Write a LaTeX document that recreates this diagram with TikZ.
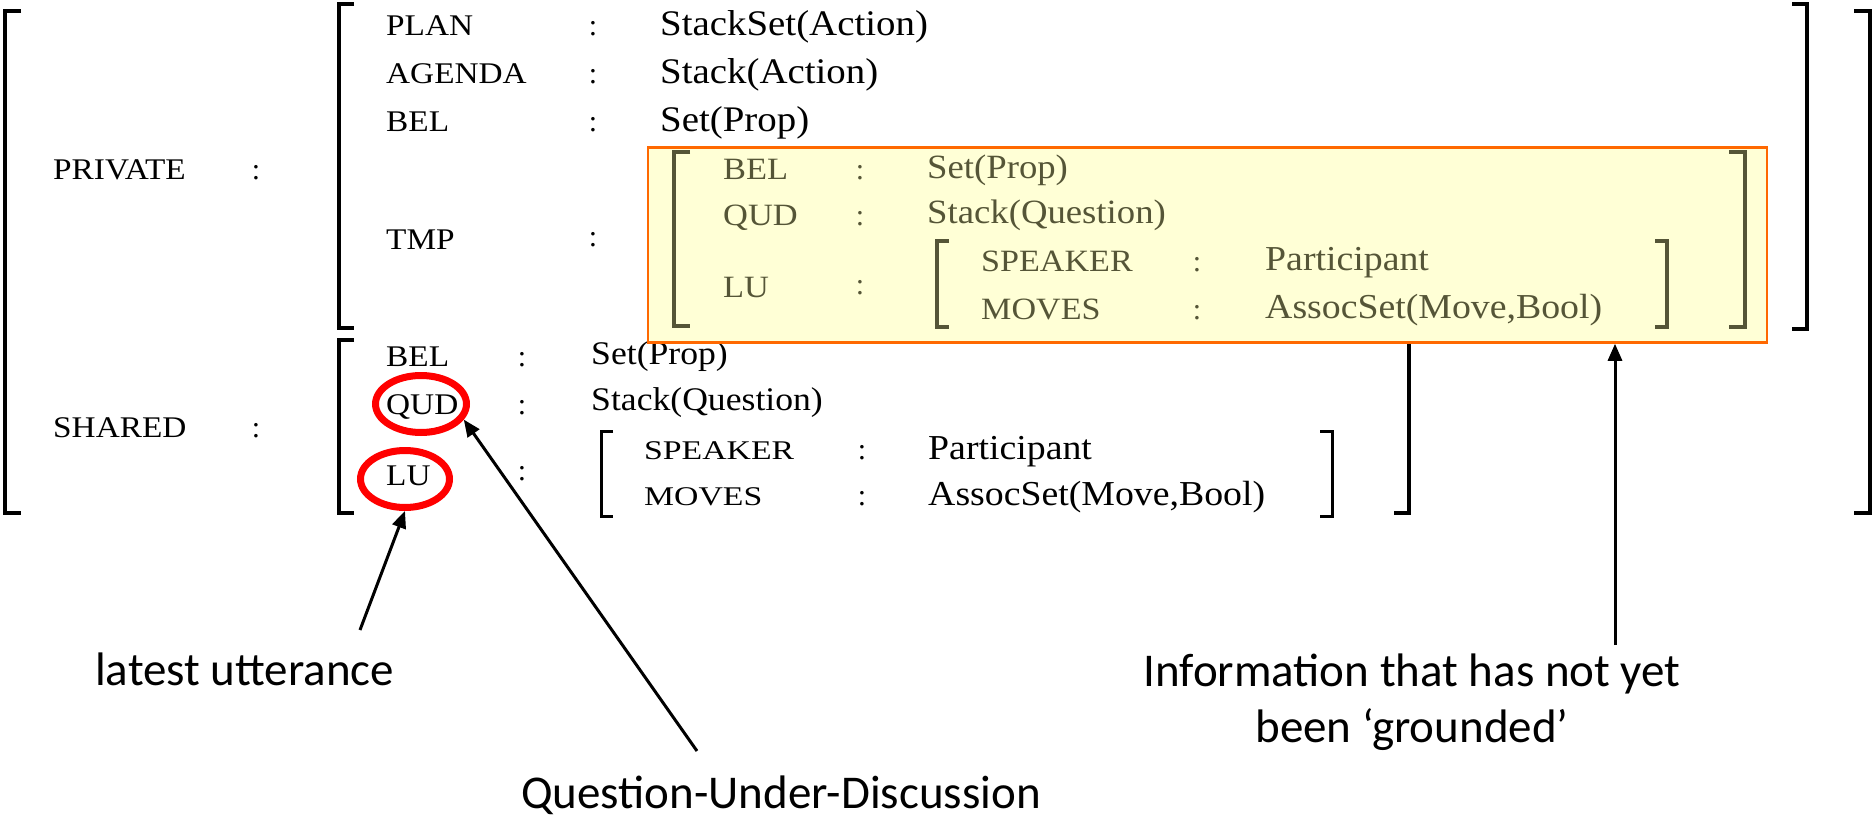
\documentclass[tikz,border=0pt]{standalone}
\usepackage{fontspec}
\setmainfont{Liberation Serif}
\newfontfamily\fkey[FakeStretch=1.11]{Liberation Serif}
\newfontfamily\fsubk[FakeStretch=1.25]{Liberation Serif}
\newfontfamily\ftsubk[FakeStretch=1.1]{Liberation Serif}
\newfontfamily\fval[FakeStretch=1.08]{Liberation Serif}
\newfontfamily\flab{Carlito}
\usetikzlibrary{shapes.geometric,arrows.meta}

\definecolor{tmpink}{RGB}{85,85,55}
\definecolor{tmpfill}{RGB}{255,255,214}
\definecolor{tmpedge}{RGB}{255,104,0}

% vertical brackets: x, top, bottom, serif length
\newcommand\brackL[5][brk]{\draw[#1] ({#2+#5},#3) -- (#2,#3) -- (#2,#4) -- ({#2+#5},#4);}
\newcommand\brackR[5][brk]{\draw[#1] ({#2-#5},#3) -- (#2,#3) -- (#2,#4) -- ({#2-#5},#4);}

\tikzset{
  brk/.style={line width=4bp, line cap=butt, line join=miter},
  subbrk/.style={line width=3bp, line cap=butt, line join=miter},
  tbrk/.style={line width=3.5bp, line cap=butt, line join=miter, draw=tmpink},
  key/.style={inner sep=0, anchor=base west, font={\fkey\fontsize{30bp}{36bp}\selectfont}},
  tkey/.style={key, text=tmpink, font={\fkey\fontsize{31bp}{37bp}\selectfont}},
  subkey/.style={inner sep=0, anchor=base west, font={\fsubk\fontsize{27bp}{32bp}\selectfont}},
  tsubkey/.style={inner sep=0, anchor=base west, text=tmpink, font={\ftsubk\fontsize{31bp}{37bp}\selectfont}},
  colon/.style={inner sep=0, anchor=base, font={\fontsize{30bp}{36bp}\selectfont}},
  tcolon/.style={colon, text=tmpink},
  val/.style={inner sep=0, anchor=base west, font={\fval\fontsize{36bp}{43bp}\selectfont}},
  tval/.style={val, text=tmpink, font={\fval\fontsize{34bp}{41bp}\selectfont}},
  sval/.style={val, font={\fval\fontsize{33bp}{40bp}\selectfont}},
  subval/.style={val, font={\fval\fontsize{35bp}{42bp}\selectfont}},
  tsubval/.style={subval, text=tmpink},
  ring/.style={ellipse, draw=red, line width=7bp, inner sep=0},
  lab/.style={inner sep=0, font={\flab\fontsize{47bp}{56bp}\selectfont}},
  arr/.style={line width=3bp, -{Triangle[length=17bp,width=14bp]}},
  tmpframe/.style={draw=tmpedge, fill=tmpfill, line width=2.5bp, inner sep=0,
    minimum width=1119bp, minimum height=195bp}
}

\begin{document}
\begin{tikzpicture}[x=1bp, y=-1bp]
\useasboundingbox (0,0) rectangle (1874,819);

% outer structure
\brackL{5}{11}{513}{16}
\brackR{1870}{11}{513}{16}
\node[key] (kpriv) at (53,179) {PRIVATE};
\node[colon] (cpriv) at (256,179) {:};
\node[key] (kshar) at (53,437) {SHARED};
\node[colon] (cshar) at (256,437) {:};

% private part
\brackL{339}{4}{328}{15}
\brackR{1807}{4}{329}{15}
\node[key] (kplan) at (386,36) {PLAN};
\node[colon] (cplan) at (593,36) {:};
\node[val] (vplan) at (660,36) {StackSet(Action)};
\node[key] (kagenda) at (386,84) {AGENDA};
\node[colon] (cagenda) at (593,84) {:};
\node[val] (vagenda) at (660,84) {Stack(Action)};
\node[key] (kbel) at (386,131) {BEL};
\node[colon] (cbel) at (593,131) {:};
\node[val] (vbel) at (660,131) {Set(Prop)};
\node[key] (ktmp) at (386,249) {TMP};
\node[colon] (ctmp) at (593,246) {:};

% shared part
\brackL{339}{340}{513}{15}
\brackR{1409}{340}{513}{15}
\node[key] (sbel) at (386,366) {BEL};
\node[colon] (csbel) at (522,366) {:};
\node[sval] (vsbel) at (591,364) {Set(Prop)};
\node[key] (squd) at (386,414) {QUD};
\node[colon] (csqud) at (522,414) {:};
\node[sval] (vsqud) at (591,410) {Stack(Question)};
\node[key] (slu) at (386,485) {LU};
\node[colon] (cslu) at (522,480) {:};
\brackL[subbrk]{601}{431}{516}{12}
\brackR[subbrk]{1332}{431}{516}{12}
\node[subkey] (sspk) at (644,459) {SPEAKER};
\node[colon] (csspk) at (862,459) {:};
\node[subval] (vsspk) at (928,459) {Participant};
\node[subkey] (smov) at (644,505) {MOVES};
\node[colon] (csmov) at (862,505) {:};
\node[subval] (vsmov) at (928,505) {AssocSet(Move,Bool)};

% highlighted temporary information
\node[tmpframe] (tmpbox) at (1207.5,245) {};
\brackL[tbrk]{674}{152}{326}{16}
\brackR[tbrk]{1745}{152}{327}{16}
\node[tkey] (tbel) at (723,179) {BEL};
\node[tcolon] (ctbel) at (860,179) {:};
\node[tval] (vtbel) at (927,178) {Set(Prop)};
\node[tkey] (tqud) at (723,225) {QUD};
\node[tcolon] (ctqud) at (860,225) {:};
\node[tval] (vtqud) at (927,223) {Stack(Question)};
\node[tkey] (tlu) at (723,297) {LU};
\node[tcolon] (ctlu) at (860,294) {:};
\brackL[tbrk]{937}{241}{327}{12}
\brackR[tbrk]{1667}{241}{327}{12}
\node[tsubkey] (tspk) at (981,271) {SPEAKER};
\node[tcolon] (ctspk) at (1197,271) {:};
\node[tsubval] (vtspk) at (1265,270) {Participant};
\node[tsubkey] (tmov) at (981,319) {MOVES};
\node[tcolon] (ctmov) at (1197,319) {:};
\node[tsubval] (vtmov) at (1265,318) {AssocSet(Move,Bool)};

% red rings
\node[ring, minimum width=91bp, minimum height=57bp] (qudring) at (421,404) {};
\node[ring, minimum width=89bp, minimum height=57bp] (luring) at (405,479) {};

% explanations
\node[lab, anchor=base west] (latest) at (95,685) {latest utterance};
\node[lab, anchor=base] (qudlab) at (781,808) {Question-Under-Discussion};
\node[lab, anchor=base, align=center] (info) at (1412,742) {Information that has not yet\\been ‘grounded’};

\coordinate (luTail) at (360,630);
\coordinate (qudTail) at (697,751);
\coordinate (infoTail) at (1615,645);
\draw[arr] (luTail) -- (luring.south);
\draw[arr] (qudTail) -- (qudring.-20);
\draw[arr] (infoTail) -- (infoTail |- tmpbox.south);
\end{tikzpicture}
\end{document}
